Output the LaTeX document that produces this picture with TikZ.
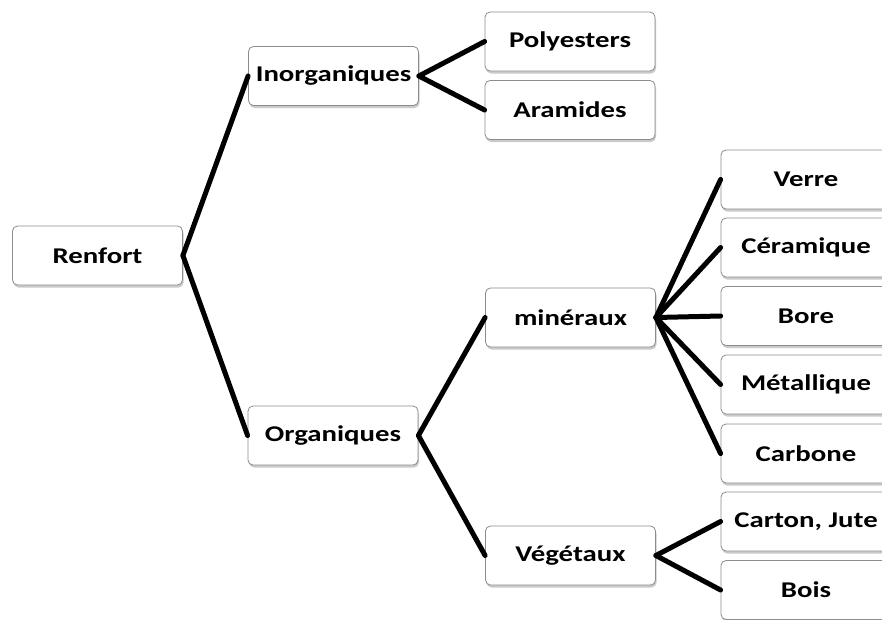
\documentclass[tikz,border=0pt]{standalone}
\usepackage{fontspec}
\setmainfont{Carlito}[FakeStretch=1.28]
\usetikzlibrary{shadows}
\tikzset{
  box/.style={draw=black!45, line width=0.8pt, fill=white, rounded corners=5pt,
    minimum width=170pt, minimum height=59pt, inner sep=0pt,
    font=\fontsize{22.5}{26}\selectfont\bfseries,
    drop shadow={shadow xshift=1pt, shadow yshift=-2.5pt, opacity=0.35, fill=black!60}},
  link/.style={line width=5pt, line cap=round}
}
\begin{document}
\begin{tikzpicture}[x=1pt,y=-1pt]
\useasboundingbox (0,0) rectangle (882,619);
\node[box] (ren) at (97.5,255.5) {Renfort};
\node[box] (ino) at (333.5,76) {Inorganiques};
\node[box] (org) at (333,435.5) {Organiques};
\node[box] (pol) at (570,41.5) {Polyesters};
\node[box] (ara) at (570,110) {Aramides};
\node[box] (min) at (570.5,317.5) {minéraux};
\node[box] (veg) at (570.5,555.5) {Végétaux};
\node[box] (ver) at (806,179.5) {Verre};
\node[box] (cer) at (806,247.5) {Céramique};
\node[box] (bor) at (806,316) {Bore};
\node[box] (met) at (806,384.5) {Métallique};
\node[box] (car) at (806,453.5) {Carbone};
\node[box] (cju) at (806,521.5) {Carton, Jute};
\node[box] (boi) at (806,590) {Bois};
\draw[link] (ren.east) -- (ino.west);
\draw[link] (ren.east) -- (org.west);
\draw[link] (ino.east) -- (pol.west);
\draw[link] (ino.east) -- (ara.west);
\draw[link] (org.east) -- (min.west);
\draw[link] (org.east) -- (veg.west);
\foreach \c in {ver,cer,bor,met,car} \draw[link] (min.east) -- (\c.west);
\draw[link] (veg.east) -- (cju.west);
\draw[link] (veg.east) -- (boi.west);
\end{tikzpicture}
\end{document}
